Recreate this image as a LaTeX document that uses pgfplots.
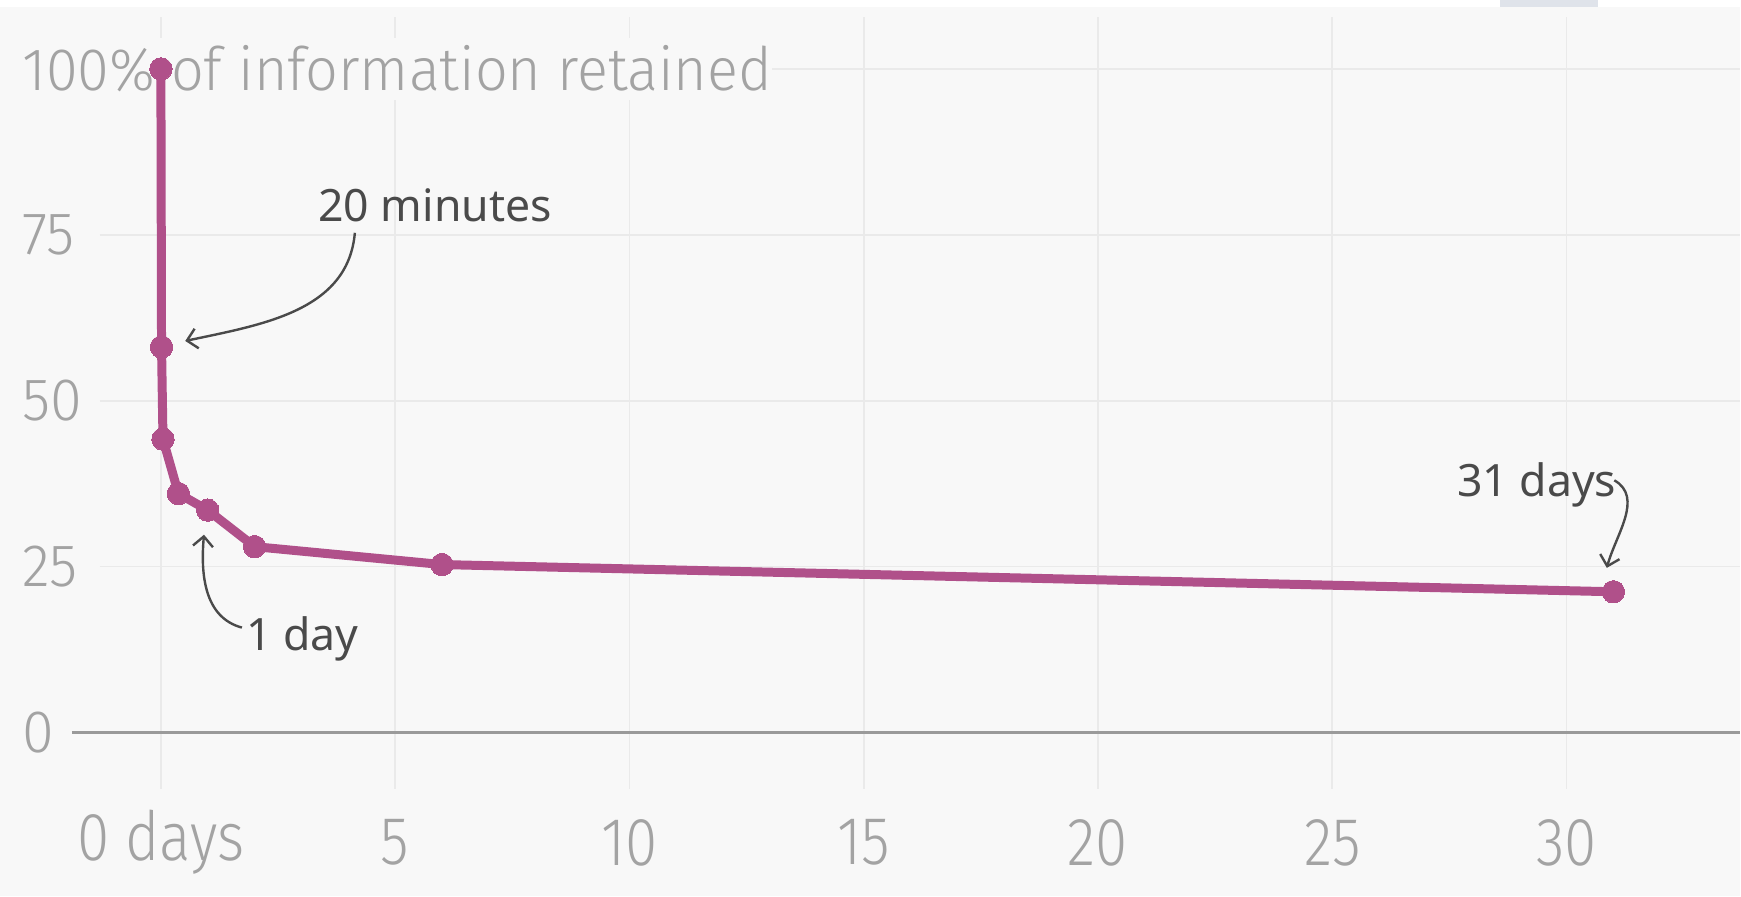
\documentclass[border=0pt]{standalone}
\usepackage{pgfplots}
\pgfplotsset{compat=1.18}
\usetikzlibrary{arrows.meta}
\usepackage{fontspec}
\setmainfont{Noto Sans}
\newfontfamily\ytickfont{Fira Sans Light}[FakeStretch=0.96]
\newfontfamily\xtickfont{Fira Sans Light}[FakeStretch=0.86]
\definecolor{bg}{HTML}{F8F8F8}
\definecolor{gridc}{HTML}{EAEAEA}
\definecolor{zeroc}{HTML}{9A9A9A}
\definecolor{tickc}{HTML}{A3A3A3}
\definecolor{curve}{HTML}{B0508A}
\definecolor{ann}{HTML}{4A4A4A}
\definecolor{boxc}{HTML}{DFE3EA}
\pgfplotstableread{
x y
0 100
0.014 58.1
0.045 44.2
0.375 36.0
1 33.5
2 28.0
6 25.3
31 21.2
}\curvedata
\begin{document}
\begin{tikzpicture}
\begin{axis}[scale only axis, width=870.5pt, height=448.5pt,
  xmin=-3.4336, xmax=33.696, ymin=-24.70, ymax=110.39,
  hide axis, clip=false]
% background
\fill[bg] (rel axis cs:0,0) rectangle (rel axis cs:1,1);
\fill[white] (axis cs:-3.4336,109.34) rectangle (axis cs:33.696,110.39);
\fill[boxc] (axis cs:28.58,109.34) rectangle (axis cs:30.67,110.39);
% vertical grid
\pgfplotsinvokeforeach{0,5,10,15,20,25,30}{
  \draw[gridc, line width=0.8pt] (axis cs:#1,107.8) -- (axis cs:#1,-8.6);
}
% horizontal grid
\pgfplotsinvokeforeach{25,50,75,100}{
  \draw[gridc, line width=0.9pt] (axis cs:-1.3,#1) -- (axis cs:33.696,#1);
}
\draw[zeroc, line width=1.3pt] (axis cs:-1.9,0) -- (axis cs:33.696,0);
% y labels
\pgfplotsinvokeforeach{0,25,50,75}{
  \node[anchor=west, inner sep=0pt, text=tickc, font=\ytickfont\fontsize{30}{30}\selectfont] at (axis cs:-2.964,#1) {#1};
}
\node[anchor=west, inner xsep=0pt, inner ysep=4pt, fill=bg, text=tickc, font=\ytickfont\fontsize{30}{30}\selectfont] at (axis cs:-2.964,100) {100\% of information retained};
% x labels
\node[anchor=center, inner sep=0pt, text=tickc, font=\xtickfont\fontsize{34}{34}\selectfont] at (axis cs:0,-16.6) {0 days};
\pgfplotsinvokeforeach{5,10,15,20,25,30}{
  \node[anchor=center, inner sep=0pt, text=tickc, font=\xtickfont\fontsize{34}{34}\selectfont] at (axis cs:#1,-16.6) {#1};
}
% curve
\addplot[curve, line width=4.5pt, mark=*, mark size=5.6pt, mark options={fill=curve, draw=curve, line width=0pt}] table {\curvedata};
% annotations
\node[anchor=center, inner sep=0pt, text=ann, font=\fontsize{22.3}{23}\selectfont] at (axis cs:5.85,79.4) {20 minutes};
\node[anchor=center, inner sep=0pt, text=ann, font=\fontsize{22.3}{23}\selectfont] at (axis cs:3.02,14.1) {1 day};
\node[anchor=center, inner sep=0pt, text=ann, font=\fontsize{22.3}{23}\selectfont] at (axis cs:29.36,37.3) {31 days};
\draw[ann, line width=1.2pt, -{Straight Barb[length=5pt,width=10pt]}] (axis cs:4.14,75.3) to[out=-95,in=12] (axis cs:0.52,59.0);
\draw[ann, line width=1.2pt, -{Straight Barb[length=5pt,width=10pt]}] (axis cs:1.73,15.8) to[out=165,in=-95] (axis cs:0.92,29.8);
\draw[ann, line width=1.2pt, -{Straight Barb[length=5pt,width=10pt]}] (axis cs:31.02,38.0) to[out=-30,in=75] (axis cs:30.86,24.8);
\end{axis}
\end{tikzpicture}
\end{document}
